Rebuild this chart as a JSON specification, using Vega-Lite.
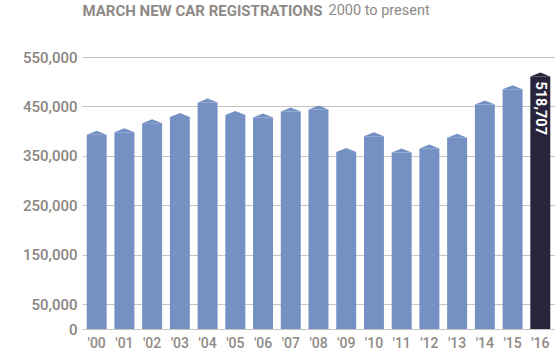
{
  "$schema": "https://vega.github.io/schema/vega-lite/v6.json",
  "width": 473,
  "height": 272,
  "autosize": "none",
  "padding": {"left": 82, "top": 57, "right": 0, "bottom": 27},
  "background": "white",
  "config": {"view": {"stroke": null}, "font": "Roboto"},
  "data": {
    "values": [
      {"year": 2000, "registrations": 401000},
      {"year": 2001, "registrations": 406000},
      {"year": 2002, "registrations": 424000},
      {"year": 2003, "registrations": 437000},
      {"year": 2004, "registrations": 466000},
      {"year": 2005, "registrations": 441000},
      {"year": 2006, "registrations": 436000},
      {"year": 2007, "registrations": 448000},
      {"year": 2008, "registrations": 452000},
      {"year": 2009, "registrations": 366000},
      {"year": 2010, "registrations": 398000},
      {"year": 2011, "registrations": 365000},
      {"year": 2012, "registrations": 373000},
      {"year": 2013, "registrations": 394806},
      {"year": 2014, "registrations": 462000},
      {"year": 2015, "registrations": 492774},
      {"year": 2016, "registrations": 518707}
    ]
  },
  "encoding": {
    "x": {
      "field": "year",
      "type": "ordinal",
      "scale": {"paddingInner": 0.28, "paddingOuter": 0.17},
      "axis": {
        "title": "2000 to present",
        "titleX": 246,
        "titleY": -319,
        "titleAlign": "left",
        "titleBaseline": "middle",
        "titleAngle": 0,
        "titleFontWeight": "normal",
        "titleFontSize": 14.5,
        "titleColor": "#8f8a86",
        "labelExpr": "\"'\" + slice(datum.label, 2)",
        "labelAngle": 0,
        "labelFontSize": 14,
        "labelFontWeight": 500,
        "labelColor": "#8f8a86",
        "labelPadding": 7,
        "domain": false,
        "ticks": false
      }
    },
    "y": {
      "field": "registrations",
      "type": "quantitative",
      "scale": {"domain": [0, 550000], "nice": false},
      "axis": {
        "title": "MARCH NEW CAR REGISTRATIONS",
        "titleX": 0,
        "titleY": -47,
        "titleAlign": "left",
        "titleBaseline": "middle",
        "titleAngle": 0,
        "titleFontWeight": "bold",
        "titleFontSize": 15,
        "titleColor": "#8f8a86",
        "values": [0, 50000, 150000, 250000, 350000, 450000, 550000],
        "format": ",.0f",
        "labelFontSize": 15,
        "labelFontWeight": 500,
        "labelColor": "#8b8580",
        "labelPadding": 5,
        "domain": false,
        "ticks": false,
        "grid": true,
        "gridColor": "#c4c4c4",
        "gridWidth": 1
      }
    }
  },
  "layer": [
    {
      "mark": {"type": "bar", "yOffset": 4, "clip": true},
      "encoding": {
        "color": {"condition": {"test": "datum.year == 2016", "value": "#27243b"}, "value": "#7591c3"}
      }
    },
    {
      "mark": {"type": "point", "shape": "M-1,0.4L0,0L1,0.4Z", "filled": true, "size": 400, "opacity": 1, "strokeWidth": 0},
      "encoding": {
        "color": {"condition": {"test": "datum.year == 2016", "value": "#27243b"}, "value": "#7591c3"}
      }
    },
    {
      "transform": [{"filter": "datum.year == 2016"}],
      "mark": {"type": "text", "angle": 90, "align": "left", "baseline": "middle", "dx": 9, "fontWeight": "bold", "fontSize": 14.5, "color": "white"},
      "encoding": {
        "text": {"field": "registrations", "type": "quantitative", "format": ",.0f"}
      }
    }
  ]
}
